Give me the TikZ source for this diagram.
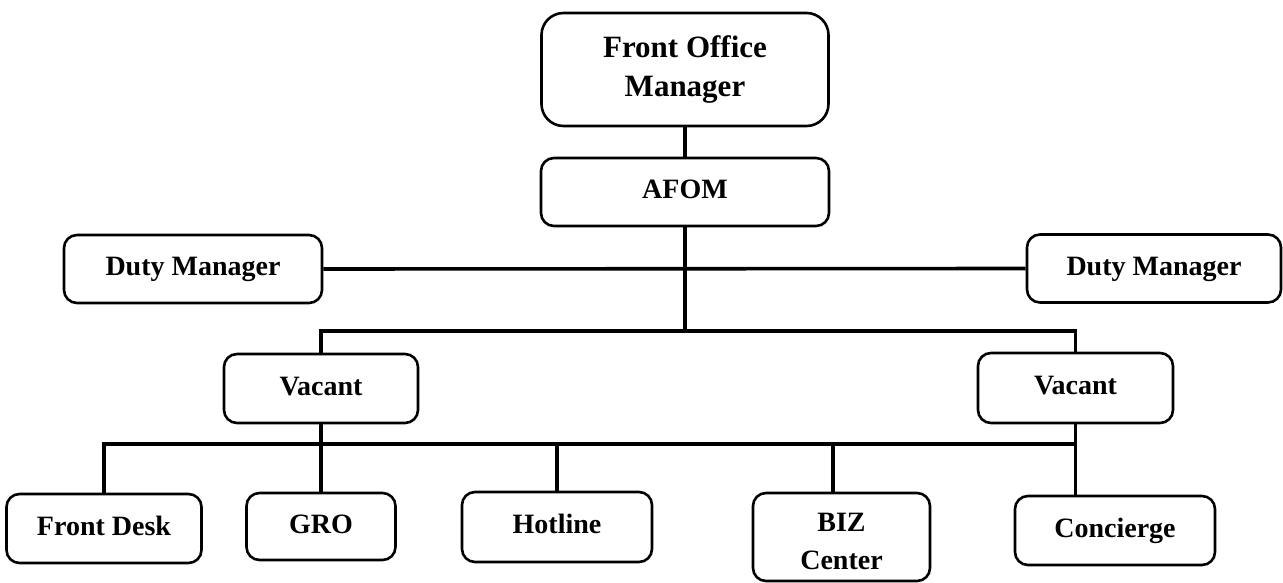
\documentclass[tikz,border=0pt]{standalone}
\usepackage{fontspec}
\setmainfont{Liberation Serif}
\begin{document}
\begin{tikzpicture}[x=1pt,y=-1pt,
  frame/.style={draw=black, line width=2.6pt, rounded corners=13pt, inner sep=0pt,
    align=center, font=\fontsize{28}{38}\selectfont\bfseries},
  box/.style={frame, text height=19pt, text depth=6pt},
  bigbox/.style={frame, rounded corners=22pt, font=\fontsize{31}{39}\selectfont\bfseries},
  link/.style={draw=black, line width=3.6pt}]
\useasboundingbox (0,0) rectangle (1283,583);

% top of the hierarchy
\node[bigbox, minimum width=287pt, minimum height=113pt] (fom) at (685,69.5) {Front Office\\Manager};
\node[box, minimum width=288pt, minimum height=68pt] (afom) at (685,192) {AFOM};

% duty managers
\node[box, minimum width=258pt, minimum height=68pt] (dutyL) at (193,269) {Duty Manager};
\node[box, minimum width=254pt, minimum height=68pt] (dutyR) at (1154,268.5) {Duty Manager};

% supervisors
\node[box, minimum width=194pt, minimum height=69pt] (vacL) at (321,388.5) {Vacant};
\node[box, minimum width=195pt, minimum height=70pt] (vacR) at (1075.5,388) {Vacant};

% sections
\node[box, minimum width=195pt, minimum height=69pt] (fd) at (104,528.5) {Front Desk};
\node[box, minimum width=149pt, minimum height=67pt] (gro) at (321,526.5) {GRO};
\node[box, minimum width=190pt, minimum height=70pt] (hot) at (557,527) {Hotline};
\node[frame, minimum width=177pt, minimum height=88pt] (biz) at (841.5,537)
  {\raisebox{-6pt}[\height][\depth]{\begin{tabular}{@{}c@{}}BIZ\\Center\end{tabular}}};
\node[box, minimum width=200pt, minimum height=69pt] (conc) at (1115,530.5) {Concierge};

% junctions
\coordinate (split) at (685,331);
\coordinate (bus) at (0,444);

% connectors
\draw[link] (fom.south) -- (afom.north);
\draw[link] (dutyL.east) -- (dutyR.west);
\draw[link] (afom.south) -- (split);
\draw[link] (vacL.north) |- (split) -| (vacR.north);
\draw[link] (vacL.south) -- (gro.north);
\draw[link] (vacR.south) -- (vacR.south |- conc.north);
\draw[link] (fd.north) |- (vacR.south |- bus);
\draw[link] (hot.north) -- (hot.north |- bus);
\draw[link] ([xshift=-8.5pt]biz.north) -- ([xshift=-8.5pt]biz.north |- bus);
\end{tikzpicture}
\end{document}
